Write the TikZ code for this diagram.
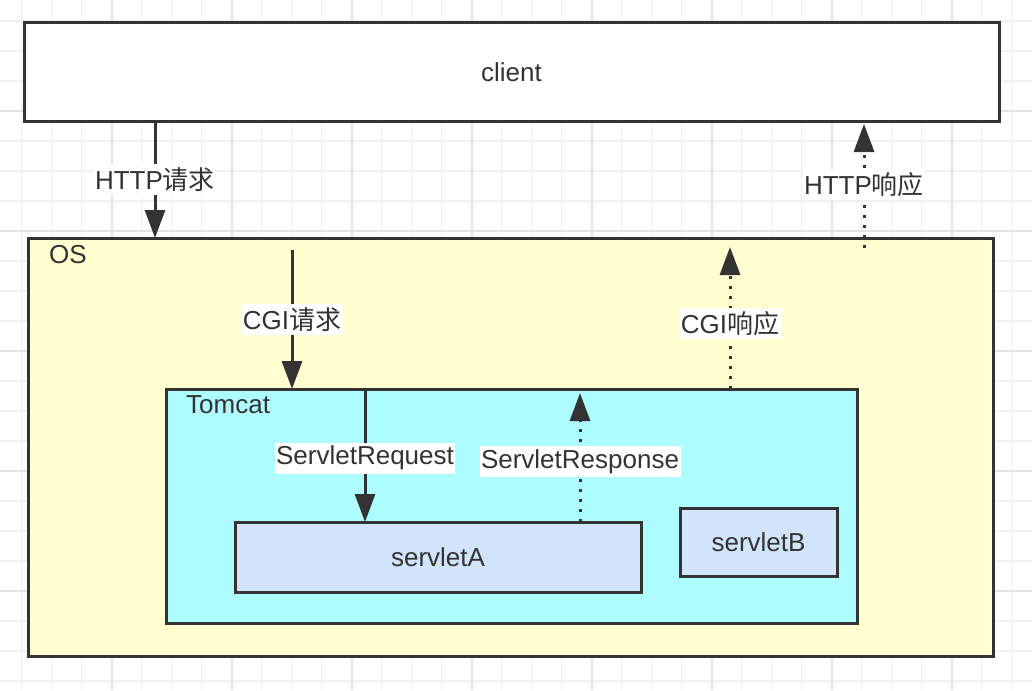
\documentclass[tikz,border=0pt]{standalone}
\usepackage{fontspec}
\setmainfont{Liberation Sans}
\newfontfamily\cjk{Noto Sans CJK SC}
\usetikzlibrary{arrows.meta}
\definecolor{darkline}{HTML}{333333}
\definecolor{osyellow}{HTML}{FFFFD0}
\definecolor{tomcatcyan}{HTML}{ADFCFF}
\definecolor{servletblue}{HTML}{D1E4FA}
\definecolor{gridminor}{HTML}{F0F0F0}
\definecolor{gridmajor}{HTML}{E3E3E3}
\tikzstyle{grid_line} = [draw=gridminor, line width=1.5pt]
\tikzstyle{grid_major} = [draw=gridmajor, line width=1.8pt]
\tikzstyle{box} = [rectangle, draw=darkline, line width=3pt, inner sep=0pt, outer sep=0pt, text=darkline, font=\fontsize{26}{30}\selectfont]
\tikzstyle{box_title} = [anchor=base west, inner sep=0pt, text=darkline, font=\fontsize{26}{30}\selectfont]
\tikzstyle{label_box} = [fill=white, inner xsep=1.5pt, inner ysep=3.5pt, text=darkline, font=\fontsize{26}{30}\selectfont]
\tikzstyle{req_arrow} = [-{Triangle[length=28pt,width=20pt]}, line width=3pt, draw=darkline]
\tikzstyle{resp_arrow} = [req_arrow, dash pattern=on 3pt off 7pt]

\begin{document}
\begin{tikzpicture}[x=1pt,y=-1pt]
\useasboundingbox (0,0) rectangle (1032,690);

% grid
\foreach \k in {0,...,33} \draw[grid_line] (21.7+30*\k,0) -- ++(0,690);
\foreach \k in {0,...,22} \draw[grid_line] (0,21+30*\k) -- ++(1032,0);
\foreach \k in {3,7,...,31} \draw[grid_major] (21.7+30*\k,0) -- ++(0,690);
\foreach \k in {3,7,...,19} \draw[grid_major] (0,21+30*\k) -- ++(1032,0);

\node[box,fill=white,minimum width=975pt,minimum height=98pt] (client) at (511.5,72) {client};
\node[box,fill=osyellow,minimum width=965pt,minimum height=418pt] (os) at (510.5,447) {};
\node[box_title] (os_title) at (49,263) {OS};
\node[box,fill=tomcatcyan,minimum width=691pt,minimum height=234pt] (tomcat) at (511.5,506) {};
\node[box_title] (tomcat_title) at (186,413) {Tomcat};
\node[box,fill=servletblue,minimum width=406pt,minimum height=70pt] (servlet_a) at (438,557) {servletA};
\node[box,fill=servletblue,minimum width=157pt,minimum height=68pt] (servlet_b) at (758.5,542) {servletB};

\coordinate (http_req_x) at (155,0);
\coordinate (http_resp_start) at (864,248);
\coordinate (cgi_req_start) at (292,250);
\coordinate (cgi_resp_end) at (730,247);
\coordinate (servlet_req_x) at (365,0);
\coordinate (servlet_resp_end) at (580,393);

\draw[req_arrow] (client.south -| http_req_x) -- (os.north -| http_req_x) node[label_box,midway] {HTTP{\cjk 请求}};
\draw[resp_arrow,shorten >=3pt] (http_resp_start) -- (client.south -| http_resp_start) node[label_box,midway] {HTTP{\cjk 响应}};
\draw[req_arrow] (cgi_req_start) -- (tomcat.north -| cgi_req_start) node[label_box,midway] {CGI{\cjk 请求}};
\draw[resp_arrow] (tomcat.north -| cgi_resp_end) -- (cgi_resp_end) node[label_box,pos=0.46] {CGI{\cjk 响应}};
\draw[req_arrow] (tomcat.north -| servlet_req_x) -- (servlet_a.north -| servlet_req_x) node[label_box,pos=0.52] {ServletRequest};
\draw[resp_arrow] (servlet_a.north -| servlet_resp_end) -- (servlet_resp_end) node[label_box,pos=0.47] {ServletResponse};
\end{tikzpicture}
\end{document}
